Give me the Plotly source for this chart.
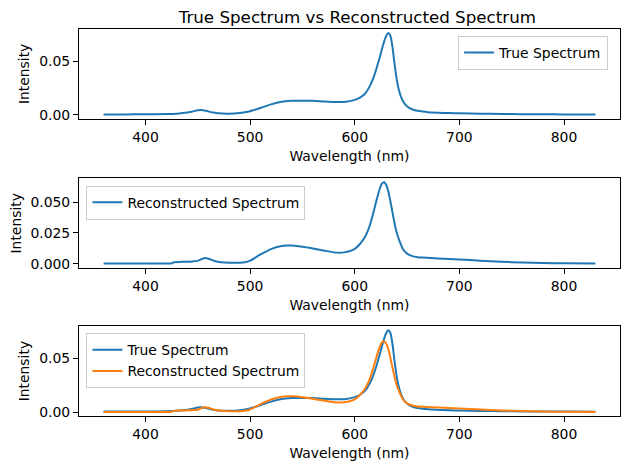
import plotly.graph_objects as go
from plotly.subplots import make_subplots

# values
wl_true = [360, 380, 400, 420, 430, 440, 445, 450, 455, 460, 465, 470, 480, 490,
           500, 510, 520, 530, 540, 550, 560, 570, 580, 590, 600, 605, 610, 615,
           618, 621, 624, 627, 630, 632, 634, 636, 638, 640, 642, 645, 648, 652,
           656, 660, 665, 670, 680, 690, 700, 720, 740, 760, 780, 800, 830]
true_spec = [0.0005, 0.0005, 0.0006, 0.0008, 0.0012, 0.0022, 0.0032, 0.0043, 0.0044,
             0.0033, 0.0022, 0.0015, 0.0012, 0.0018, 0.0035, 0.0065, 0.0098, 0.0122,
             0.0131, 0.0133, 0.0131, 0.0125, 0.0120, 0.0121, 0.0140, 0.0162, 0.0200,
             0.0280, 0.0350, 0.0440, 0.0540, 0.0650, 0.0735, 0.0763, 0.0740, 0.0640,
             0.0480, 0.0340, 0.0240, 0.0150, 0.0100, 0.0065, 0.0048, 0.0038, 0.0031,
             0.0026, 0.0021, 0.0017, 0.0015, 0.0011, 0.0009, 0.0007, 0.0006, 0.0005,
             0.0004]

wl_recon = [360, 380, 400, 420, 425, 427, 435, 445, 450, 454, 457, 461, 466, 472,
            480, 490, 495, 500, 510, 520, 530, 535, 540, 550, 560, 570, 580, 585,
            590, 595, 600, 605, 610, 614, 618, 621, 624, 626, 628, 630, 632, 634,
            636, 638, 640, 643, 646, 650, 655, 660, 665, 680, 700, 720, 740, 760,
            780, 800, 830]
recon_spec = [0.0002, 0.0002, 0.0002, 0.0002, 0.0003, 0.0012, 0.0015, 0.0019, 0.0023,
              0.0038, 0.0046, 0.0038, 0.0022, 0.0012, 0.0008, 0.0008, 0.0012, 0.0025,
              0.0075, 0.0118, 0.0143, 0.0148, 0.0147, 0.0138, 0.0124, 0.0108, 0.0092,
              0.0089, 0.0092, 0.0101, 0.0120, 0.0160, 0.0220, 0.0300, 0.0420, 0.0520,
              0.0610, 0.0650, 0.0660, 0.0640, 0.0590, 0.0510, 0.0420, 0.0330, 0.0255,
              0.0180, 0.0120, 0.0082, 0.0062, 0.0053, 0.0050, 0.0043, 0.0034, 0.0025,
              0.0016, 0.0010, 0.0006, 0.0003, 0.0002]

x_ticks = [400, 500, 600, 700, 800]

BLUE = '#1f77b4'
ORANGE = '#ff7f0e'
FONT = 'DejaVu Sans'
FS = 13.9

fig = make_subplots(rows=3, cols=1)
fig.update_yaxes(domain=[0.768, 1.0], row=1, col=1)
fig.update_yaxes(domain=[0.382, 0.614], row=2, col=1)
fig.update_yaxes(domain=[0.0, 0.232], row=3, col=1)

line = dict(width=2, shape='spline', smoothing=0.6)

fig.add_trace(go.Scatter(x=wl_true, y=true_spec, mode='lines', name='True Spectrum',
                         line=dict(color=BLUE, **line), legend='legend', showlegend=True),
              row=1, col=1)
fig.add_trace(go.Scatter(x=wl_recon, y=recon_spec, mode='lines', name='Reconstructed Spectrum',
                         line=dict(color=BLUE, **line), legend='legend2', showlegend=True),
              row=2, col=1)
fig.add_trace(go.Scatter(x=wl_true, y=true_spec, mode='lines', name='True Spectrum',
                         line=dict(color=BLUE, **line), legend='legend3', showlegend=True),
              row=3, col=1)
fig.add_trace(go.Scatter(x=wl_recon, y=recon_spec, mode='lines', name='Reconstructed Spectrum',
                         line=dict(color=ORANGE, **line), legend='legend3', showlegend=True),
              row=3, col=1)

fig.update_xaxes(range=[336.5, 853.5], tickvals=x_ticks, showline=True, mirror=True,
                 linecolor='black', linewidth=1.1, ticks='outside', ticklen=5,
                 tickcolor='black', showgrid=False, zeroline=False, automargin=False,
                 title=dict(text='Wavelength (nm)', standoff=7, font=dict(size=FS)),
                 tickfont=dict(size=FS))
fig.update_yaxes(showline=True, mirror=True, linecolor='black', linewidth=1.1,
                 ticks='outside', ticklen=5, tickcolor='black', showgrid=False,
                 zeroline=False, automargin=False,
                 title=dict(text='Intensity', standoff=6, font=dict(size=FS)),
                 tickfont=dict(size=FS))
fig.update_yaxes(range=[-0.0036, 0.0801], tickvals=[0, 0.05], tickformat='.2f', row=1, col=1)
fig.update_yaxes(range=[-0.0036, 0.0692], tickvals=[0, 0.025, 0.05], tickformat='.3f', row=2, col=1)
fig.update_yaxes(range=[-0.0036, 0.0801], tickvals=[0, 0.05], tickformat='.2f', row=3, col=1)

leg = dict(bgcolor='rgba(255,255,255,0.8)', bordercolor='#cccccc', borderwidth=1,
           font=dict(size=FS, family=FONT), tracegroupgap=0, visible=True)
fig.update_layout(
    width=630, height=469,
    margin=dict(l=71, r=18, t=21, b=61),
    paper_bgcolor='white', plot_bgcolor='white',
    showlegend=True,
    font=dict(family=FONT, size=FS, color='black'),
    title=dict(text='True Spectrum vs Reconstructed Spectrum', x=0.5545, xanchor='center',
               y=0.9815, yanchor='middle', font=dict(size=16.7)),
    legend=dict(x=0.978, xanchor='right', y=0.982, yanchor='top', **leg),
    legend2=dict(x=0.0137, xanchor='left', y=0.595, yanchor='top', **leg),
    legend3=dict(x=0.0137, xanchor='left', y=0.2137, yanchor='top', **leg),
)

fig.write_html("out.html")
